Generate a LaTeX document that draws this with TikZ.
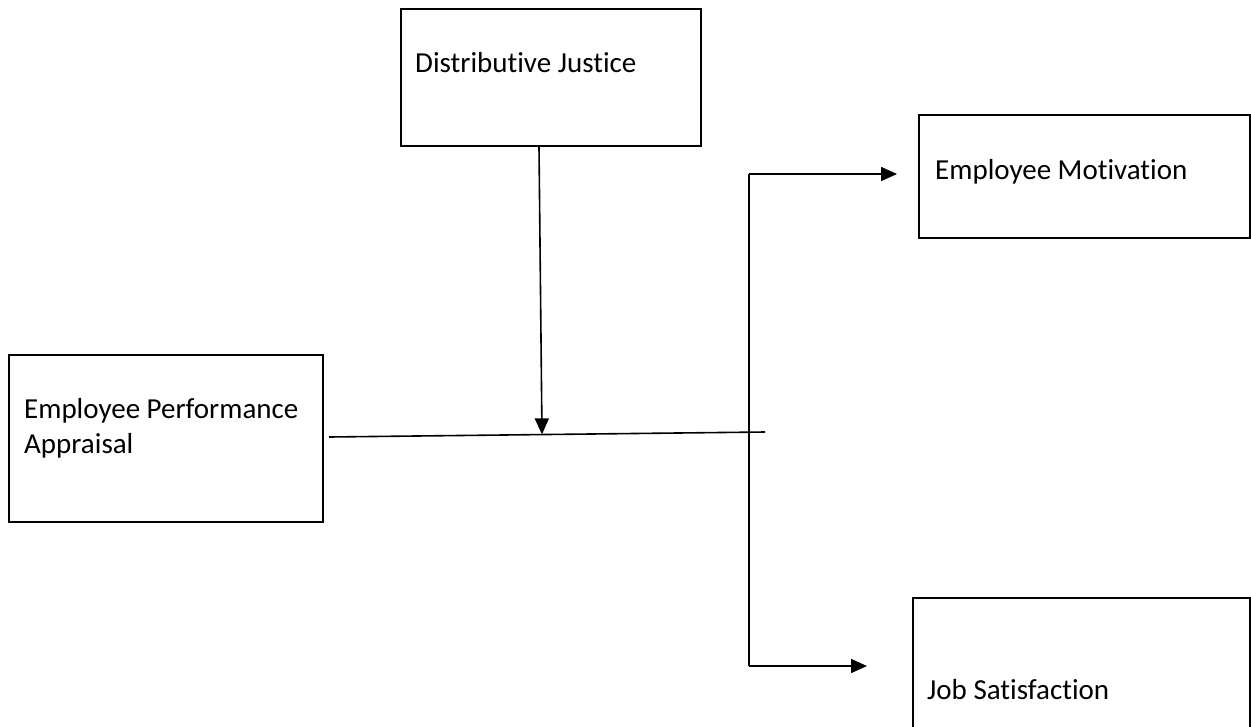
\documentclass[tikz,border=0pt]{standalone}
\usepackage{fontspec}
\setmainfont{Carlito}[Ligatures=NoCommon]
\usetikzlibrary{arrows.meta}
\begin{document}
\begin{tikzpicture}[x=1pt,y=-1pt,
  box/.style={draw,line width=2pt},
  lbl/.style={anchor=west,inner sep=0pt,font=\fontsize{29}{35}\selectfont,align=left},
  conn/.style={line width=1.6pt},
  arr/.style={conn,-{Triangle[length=16pt,width=14pt]}}]
\useasboundingbox (0,0) rectangle (1251,726);
\clip (0,0) rectangle (1251,726);
% boxes
\draw[box] (401,9) rectangle (701,146);
\node[lbl] (dj) at (415,63) {Distributive Justice};
\draw[box] (919,115) rectangle (1250,238);
\node[lbl] (em) at (935,172) {Employee Motivation};
\draw[box] (9,355) rectangle (323,522);
\node[lbl] (epa) at (24,428) {Employee Performance\\Appraisal};
\draw[box] (913,598) rectangle (1250,740);
\node[lbl] (js) at (927,690) {Job Satisfaction};
% connectors
\coordinate (a) at (329,437);
\coordinate (b) at (765,432);
\coordinate (m) at (542,434.4);
\coordinate (djb) at (539,147);
\coordinate (top) at (749,174);
\coordinate (bot) at (749,666);
\coordinate (emw) at (897,174);
\coordinate (jsw) at (867,666);
\draw[conn] (a) -- (b);
\draw[arr] (djb) -- (m);
\draw[conn] (bot) -- (top);
\draw[arr] (top) -- (emw);
\draw[arr] (bot) -- (jsw);
\end{tikzpicture}
\end{document}
